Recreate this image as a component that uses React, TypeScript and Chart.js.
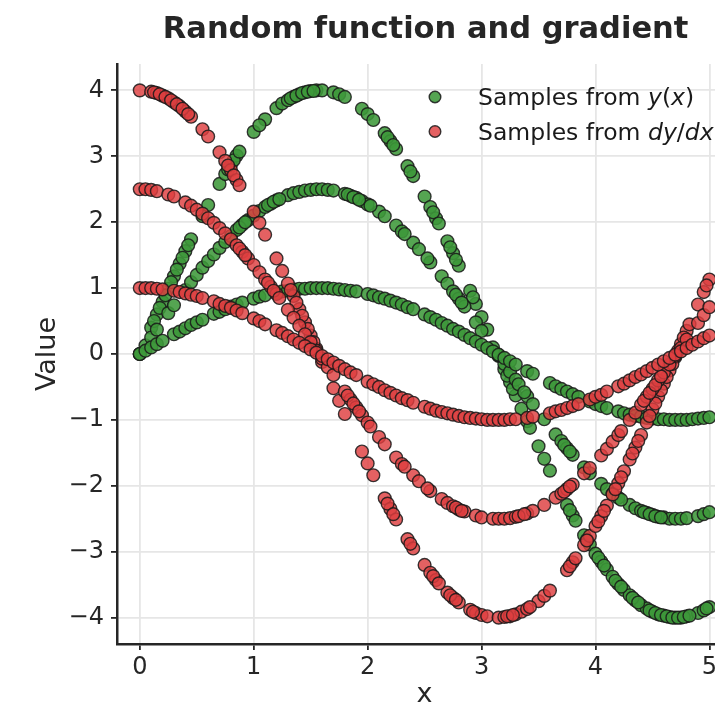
import React, { useEffect, useRef } from "react";
import { Chart, registerables } from "chart.js";

Chart.register(...registerables);

// ---------- data ----------
const TITLE = "Random function and gradient";
const X_LABEL = "x";
const Y_LABEL = "Value";
const X_TICKS = [0, 1, 2, 3, 4, 5];
const Y_TICKS = [-4, -3, -2, -1, 0, 1, 2, 3, 4];

// amplitude 1 curve
const X_A1 = [
  0.0, 0.05, 0.1, 0.15, 0.2, 0.3, 0.35, 0.4, 0.45, 0.5,
  0.55, 0.65, 0.7, 0.75, 0.8, 0.85, 0.9, 1.0, 1.05, 1.1,
  1.2, 1.25, 1.3, 1.35, 1.4, 1.45, 1.5, 1.55, 1.6, 1.65,
  1.7, 1.75, 1.8, 1.85, 1.9, 2.0, 2.05, 2.1, 2.15, 2.2,
  2.25, 2.3, 2.35, 2.4, 2.5, 2.55, 2.6, 2.65, 2.7, 2.75,
  2.8, 2.85, 2.9, 2.95, 3.0, 3.05, 3.1, 3.15, 3.2, 3.25,
  3.3, 3.4, 3.45, 3.6, 3.65, 3.7, 3.75, 3.8, 3.85, 3.95,
  4.0, 4.05, 4.1, 4.2, 4.25, 4.3, 4.35, 4.4, 4.45, 4.5,
  4.55, 4.6, 4.65, 4.7, 4.75, 4.8, 4.85, 4.9, 4.95, 5.0,
];
const Y_A1 = [
  0.0, 0.05, 0.1, 0.15, 0.2, 0.3, 0.34, 0.39, 0.44, 0.48,
  0.52, 0.61, 0.64, 0.68, 0.72, 0.75, 0.78, 0.84, 0.87, 0.89,
  0.93, 0.95, 0.96, 0.98, 0.99, 0.99, 1.0, 1.0, 1.0, 1.0,
  0.99, 0.98, 0.97, 0.96, 0.95, 0.91, 0.89, 0.86, 0.84, 0.81,
  0.78, 0.75, 0.71, 0.68, 0.6, 0.56, 0.52, 0.47, 0.43, 0.38,
  0.34, 0.29, 0.24, 0.19, 0.14, 0.09, 0.04, -0.01, -0.06, -0.11,
  -0.16, -0.26, -0.3, -0.44, -0.49, -0.53, -0.57, -0.61, -0.65, -0.72,
  -0.76, -0.79, -0.82, -0.87, -0.9, -0.92, -0.94, -0.95, -0.97, -0.98,
  -0.99, -0.99, -1.0, -1.0, -1.0, -1.0, -0.99, -0.98, -0.97, -0.96,
];
const DY_A1 = [
  1.0, 1.0, 1.0, 0.99, 0.98, 0.96, 0.94, 0.92, 0.9, 0.88,
  0.85, 0.8, 0.76, 0.73, 0.7, 0.66, 0.62, 0.54, 0.5, 0.45,
  0.36, 0.32, 0.27, 0.22, 0.17, 0.12, 0.07, 0.02, -0.03, -0.08,
  -0.13, -0.18, -0.23, -0.28, -0.32, -0.42, -0.46, -0.5, -0.55, -0.59,
  -0.63, -0.67, -0.7, -0.74, -0.8, -0.83, -0.86, -0.88, -0.9, -0.92,
  -0.94, -0.96, -0.97, -0.98, -0.99, -1.0, -1.0, -1.0, -1.0, -0.99,
  -0.99, -0.97, -0.95, -0.9, -0.87, -0.85, -0.82, -0.79, -0.76, -0.69,
  -0.65, -0.62, -0.57, -0.49, -0.45, -0.4, -0.35, -0.31, -0.26, -0.21,
  -0.16, -0.11, -0.06, -0.01, 0.04, 0.09, 0.14, 0.19, 0.24, 0.28,
];

// amplitude 2.5 curve
const X_A25 = [
  0.0, 0.05, 0.1, 0.15, 0.25, 0.3, 0.4, 0.45, 0.5, 0.55,
  0.6, 0.65, 0.7, 0.75, 0.8, 0.85, 0.9, 0.95, 1.0, 1.05,
  1.1, 1.15, 1.2, 1.3, 1.35, 1.4, 1.45, 1.5, 1.55, 1.6,
  1.65, 1.7, 1.8, 1.85, 1.9, 1.95, 2.0, 2.1, 2.15, 2.25,
  2.3, 2.4, 2.45, 2.55, 2.65, 2.7, 2.75, 2.8, 2.85, 2.95,
  3.0, 3.1, 3.15, 3.2, 3.25, 3.3, 3.4, 3.45, 3.55, 3.65,
  3.7, 3.75, 3.8, 3.9, 3.95, 4.05, 4.1, 4.15, 4.2, 4.3,
  4.35, 4.4, 4.45, 4.5, 4.55, 4.6, 4.65, 4.7, 4.75, 4.8,
  4.9, 4.95, 5.0,
  0.875, 0.925, 1.125, 1.175, 1.225, 1.825, 1.875, 1.925, 2.025, 2.325,
  2.525, 2.775, 2.825, 3.325, 3.375, 3.725, 3.775, 4.225, 4.425, 4.475,
  4.525, 4.575,
];
const Y_A25 = [
  0.0, 0.13, 0.25, 0.37, 0.62, 0.74, 0.97, 1.09, 1.2, 1.31,
  1.41, 1.51, 1.61, 1.7, 1.79, 1.88, 1.96, 2.03, 2.1, 2.17,
  2.23, 2.28, 2.33, 2.41, 2.44, 2.46, 2.48, 2.49, 2.5, 2.5,
  2.49, 2.48, 2.43, 2.4, 2.37, 2.32, 2.27, 2.16, 2.09, 1.95,
  1.86, 1.69, 1.59, 1.39, 1.18, 1.07, 0.95, 0.84, 0.72, 0.48,
  0.35, 0.1, -0.02, -0.15, -0.27, -0.39, -0.64, -0.76, -0.99, -1.22,
  -1.32, -1.43, -1.53, -1.72, -1.81, -1.97, -2.05, -2.12, -2.18, -2.29,
  -2.34, -2.38, -2.41, -2.44, -2.47, -2.48, -2.5, -2.5, -2.5, -2.49,
  -2.46, -2.43, -2.4,
  1.92, 2.0, 2.26, 2.31, 2.35, 2.42, 2.38, 2.34, 2.25, 1.82,
  1.45, 0.9, 0.78, -0.46, -0.58, -1.38, -1.48, -2.21, -2.4, -2.43,
  -2.46, -2.48,
];
const DY_A25 = [
  2.5, 2.5, 2.49, 2.47, 2.42, 2.39, 2.3, 2.25, 2.19, 2.13,
  2.06, 1.99, 1.91, 1.83, 1.74, 1.65, 1.55, 1.45, 1.35, 1.24,
  1.13, 1.02, 0.91, 0.67, 0.55, 0.43, 0.3, 0.18, 0.05, -0.07,
  -0.2, -0.32, -0.57, -0.69, -0.81, -0.93, -1.04, -1.26, -1.37, -1.57,
  -1.67, -1.84, -1.93, -2.08, -2.2, -2.26, -2.31, -2.36, -2.39, -2.45,
  -2.48, -2.5, -2.5, -2.5, -2.49, -2.47, -2.42, -2.38, -2.29, -2.18,
  -2.12, -2.05, -1.98, -1.81, -1.73, -1.54, -1.44, -1.33, -1.23, -1.0,
  -0.89, -0.77, -0.65, -0.53, -0.4, -0.28, -0.16, -0.03, 0.09, 0.22,
  0.47, 0.59, 0.71,
  1.6, 1.5, 1.08, 0.96, 0.85, -0.63, -0.75, -0.87, -1.1, -1.71,
  -2.04, -2.33, -2.38, -2.46, -2.43, -2.09, -2.01, -1.17, -0.71, -0.59,
  -0.47, -0.34,
];

// amplitude 4 curve
const X_A4 = [
  0.0, 0.1, 0.15, 0.2, 0.25, 0.3, 0.35, 0.4, 0.45, 0.55,
  0.6, 0.7, 0.75, 0.8, 0.85, 1.0, 1.1, 1.2, 1.25, 1.3,
  1.35, 1.4, 1.45, 1.5, 1.55, 1.6, 1.7, 1.75, 1.8, 1.95,
  2.0, 2.05, 2.15, 2.2, 2.25, 2.35, 2.4, 2.5, 2.55, 2.6,
  2.7, 2.75, 2.8, 2.9, 2.95, 3.0, 3.05, 3.15, 3.2, 3.25,
  3.3, 3.35, 3.4, 3.5, 3.55, 3.6, 3.75, 3.8, 3.9, 3.95,
  4.0, 4.05, 4.1, 4.15, 4.2, 4.25, 4.3, 4.35, 4.4, 4.45,
  4.5, 4.55, 4.6, 4.65, 4.7, 4.75, 4.8, 4.9, 4.95, 5.0,
  0.125, 0.175, 0.225, 0.275, 0.325, 0.375, 0.425, 0.775, 0.825, 0.875,
  1.05, 1.325, 1.375, 1.425, 1.475, 1.525, 2.175, 2.225, 2.375, 2.575,
  2.625, 2.725, 2.775, 2.925, 3.225, 3.275, 3.425, 3.775, 3.825, 3.925,
  4.025, 4.075, 4.175, 4.225, 4.325, 4.375, 4.475, 4.525, 4.575, 4.625,
  4.675, 4.725, 4.775, 4.825, 4.975,
];
const Y_A4 = [
  0.0, 0.4, 0.6, 0.79, 0.99, 1.18, 1.37, 1.56, 1.74, 2.09,
  2.26, 2.58, 2.73, 2.87, 3.01, 3.37, 3.56, 3.73, 3.8, 3.85,
  3.9, 3.94, 3.97, 3.99, 4.0, 4.0, 3.97, 3.94, 3.9, 3.72,
  3.64, 3.55, 3.35, 3.23, 3.11, 2.85, 2.7, 2.39, 2.23, 2.06,
  1.71, 1.53, 1.34, 0.96, 0.76, 0.56, 0.37, -0.03, -0.23, -0.43,
  -0.63, -0.83, -1.02, -1.4, -1.59, -1.77, -2.29, -2.45, -2.75, -2.89,
  -3.03, -3.15, -3.27, -3.38, -3.49, -3.58, -3.66, -3.74, -3.81, -3.86,
  -3.91, -3.95, -3.97, -3.99, -4.0, -4.0, -3.98, -3.93, -3.89, -3.84,
  0.5, 0.7, 0.89, 1.09, 1.28, 1.46, 1.65, 2.8, 2.94, 3.07,
  3.47, 3.88, 3.92, 3.96, 3.98, 3.99, 3.29, 3.17, 2.77, 2.15,
  1.98, 1.62, 1.43, 0.86, -0.33, -0.53, -1.12, -2.37, -2.53, -2.82,
  -3.09, -3.21, -3.44, -3.53, -3.7, -3.77, -3.89, -3.93, -3.96, -3.98,
  -4.0, -4.0, -3.99, -3.97, -3.86,
];
const DY_A4 = [
  4.0, 3.98, 3.96, 3.92, 3.88, 3.82, 3.76, 3.68, 3.6, 3.41,
  3.3, 3.06, 2.93, 2.79, 2.64, 2.16, 1.81, 1.45, 1.26, 1.07,
  0.88, 0.68, 0.48, 0.28, 0.08, -0.12, -0.52, -0.71, -0.91, -1.48,
  -1.66, -1.84, -2.19, -2.35, -2.51, -2.81, -2.95, -3.2, -3.32, -3.43,
  -3.62, -3.7, -3.77, -3.88, -3.93, -3.96, -3.98, -4.0, -3.99, -3.98,
  -3.95, -3.91, -3.87, -3.75, -3.67, -3.59, -3.28, -3.16, -2.9, -2.76,
  -2.61, -2.46, -2.3, -2.13, -1.96, -1.78, -1.6, -1.42, -1.23, -1.04,
  -0.84, -0.65, -0.45, -0.25, -0.05, 0.15, 0.35, 0.75, 0.94, 1.13,
  3.97, 3.94, 3.9, 3.85, 3.79, 3.72, 3.64, 2.86, 2.71, 2.56,
  1.99, 0.97, 0.78, 0.58, 0.38, 0.18, -2.27, -2.43, -2.88, -3.37,
  -3.48, -3.66, -3.73, -3.91, -3.98, -3.96, -3.84, -3.22, -3.1, -2.83,
  -2.54, -2.38, -2.05, -1.87, -1.51, -1.32, -0.94, -0.75, -0.55, -0.35,
  -0.15, 0.05, 0.25, 0.45, 1.04,
];

const X_MIN = -0.2;
const X_MAX = 5.2;
const Y_MIN = -4.4;
const Y_MAX = 4.4;

// ---------- styles ----------
const GREEN = "rgba(62,152,58,0.88)";
const RED = "rgba(222,62,64,0.82)";
const EDGE = "rgba(25,25,25,0.85)";
const TEXT = "#262626";
const FONT = '"DejaVu Sans", "Liberation Sans", sans-serif';
const CANVAS_W = 740;
const CANVAS_H = 716;

function pts(xs: number[], ys: number[]) {
  return xs.map((x, i) => ({ x, y: ys[i] }));
}

function fmt(v: number) {
  return v < 0 ? "\u2212" + Math.abs(v) : String(v);
}

const overlay = {
  id: "overlay",
  afterDraw(chart: any) {
    const ctx: CanvasRenderingContext2D = chart.ctx;
    const a = chart.chartArea;
    const cx = (a.left + a.right) / 2;
    ctx.save();
    ctx.fillStyle = TEXT;
    // title
    ctx.font = `bold 30.5px ${FONT}`;
    ctx.textAlign = "center";
    ctx.textBaseline = "alphabetic";
    ctx.fillText(TITLE, cx + 1, 38);
    // axis labels
    ctx.font = `27px ${FONT}`;
    ctx.textBaseline = "middle";
    ctx.fillText(X_LABEL, cx, 695);
    ctx.save();
    ctx.translate(48, (a.top + a.bottom) / 2);
    ctx.rotate(-Math.PI / 2);
    ctx.fillText(Y_LABEL, 0, 0);
    ctx.restore();

    // legend
    const rows: { color: string; y: number; parts: [string, boolean][] }[] = [
      { color: GREEN, y: 97, parts: [["Samples from ", false], ["y", true], ["(", false], ["x", true], [")", false]] },
      { color: RED, y: 131.5, parts: [["Samples from ", false], ["dy", true], ["/", false], ["dx", true]] },
    ];
    ctx.textAlign = "left";
    ctx.textBaseline = "alphabetic";
    for (const r of rows) {
      ctx.beginPath();
      ctx.arc(435, r.y, 5.8, 0, Math.PI * 2);
      ctx.fillStyle = r.color;
      ctx.fill();
      ctx.lineWidth = 1.4;
      ctx.strokeStyle = EDGE;
      ctx.stroke();
      let x = 478;
      ctx.fillStyle = "#1a1a1a";
      for (const [t, it] of r.parts) {
        ctx.font = `${it ? "italic " : ""}23.5px ${FONT}`;
        ctx.fillText(t, x, r.y + 8);
        x += ctx.measureText(t).width;
      }
    }
    ctx.restore();
  },
};

export default function App() {
  const ref = useRef<HTMLCanvasElement | null>(null);

  useEffect(() => {
    document.body.style.margin = "0";
    document.documentElement.style.overflow = "hidden";
    const canvas = ref.current;
    if (!canvas) return;
    const mk = (label: string, xs: number[], ys: number[], color: string, order: number) => ({
      label,
      data: pts(xs, ys),
      backgroundColor: color,
      borderColor: EDGE,
      borderWidth: 1.4,
      pointRadius: 6.4,
      pointHoverRadius: 6.4,
      order,
    });
    const chart = new Chart(canvas, {
      type: "scatter",
      data: {
        datasets: [
          mk("y a1", X_A1, Y_A1, GREEN, 1),
          mk("y a2.5", X_A25, Y_A25, GREEN, 1),
          mk("y a4", X_A4, Y_A4, GREEN, 1),
          mk("dy a1", X_A1, DY_A1, RED, 0),
          mk("dy a2.5", X_A25, DY_A25, RED, 0),
          mk("dy a4", X_A4, DY_A4, RED, 0),
        ],
      },
      options: {
        responsive: false,
        animation: false,
        devicePixelRatio: 1,
        layout: { padding: { left: 0, top: 64, right: CANVAS_W - 734, bottom: 0 } },
        plugins: {
          legend: { display: false },
          title: { display: false },
          tooltip: { enabled: false },
        },
        scales: {
          x: {
            type: "linear",
            min: X_MIN,
            max: X_MAX,
            afterFit: (s: any) => {
              s.height = CANVAS_H - 644;
            },
            afterBuildTicks: (s: any) => {
              s.ticks = X_TICKS.map((v) => ({ value: v }));
            },
            ticks: {
              includeBounds: false,
              stepSize: 1,
              padding: 3,
              color: TEXT,
              font: { family: FONT, size: 24 },
              callback: (v: any) => fmt(Number(v)),
            },
            grid: {
              color: "#e6e6e6",
              lineWidth: 1.8,
              drawTicks: true,
              tickLength: 6,
              tickColor: TEXT,
              tickWidth: 1.8,
            },
            border: { display: true, color: TEXT, width: 2.5 },
          },
          y: {
            type: "linear",
            min: Y_MIN,
            max: Y_MAX,
            afterFit: (s: any) => {
              s.width = 117;
            },
            afterBuildTicks: (s: any) => {
              s.ticks = Y_TICKS.map((v) => ({ value: v }));
            },
            ticks: {
              includeBounds: false,
              stepSize: 1,
              padding: 7,
              color: TEXT,
              font: { family: FONT, size: 24 },
              callback: (v: any) => fmt(Number(v)),
            },
            grid: {
              color: "#e6e6e6",
              lineWidth: 1.8,
              drawTicks: true,
              tickLength: 6,
              tickColor: TEXT,
              tickWidth: 1.8,
            },
            border: { display: true, color: TEXT, width: 2.5 },
          },
        },
      },
      plugins: [overlay],
    });
    return () => chart.destroy();
  }, []);

  return (
    <div style={{ width: 715, height: 716, overflow: "hidden", position: "relative" }}>
      <canvas ref={ref} width={CANVAS_W} height={CANVAS_H} style={{ display: "block", width: CANVAS_W, height: CANVAS_H }} />
    </div>
  );
}
